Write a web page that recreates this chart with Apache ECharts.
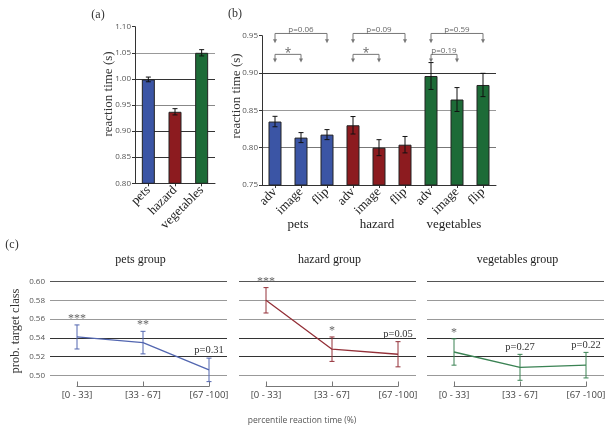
<!DOCTYPE html>
<html><head><meta charset="utf-8">
<script src="https://cdn.jsdelivr.net/npm/echarts@6/dist/echarts.min.js"></script>
<style>html,body{margin:0;padding:0;background:#fff}#c{width:605px;height:431px}</style>
</head><body><div id="c"></div>
<script>
// ---- data ----
const aCats = ['pets', 'hazard', 'vegetables'];
const aVals = [0.999, 0.937, 1.050];
const aErrs = [0.0045, 0.006, 0.006];

const bCats = ['adv', 'image', 'flip', 'adv', 'image', 'flip', 'adv', 'image', 'flip'];
const bGroups = ['pets', 'hazard', 'vegetables'];
const bVals = [0.835, 0.8135, 0.8175, 0.830, 0.800, 0.804, 0.896, 0.8645, 0.884];
const bErrs = [0.007, 0.0067, 0.0067, 0.0117, 0.0107, 0.011, 0.018, 0.016, 0.0156];
const bBrackets = [[0, 2, 'p=0.06'], [0, 1, '*'], [3, 5, 'p=0.09'], [3, 4, '*'], [6, 8, 'p=0.59'], [6, 7, 'p=0.19']];

const cCats = ['[0 - 33]', '[33 - 67]', '[67 -100]'];
const cTitles = ['pets group', 'hazard group', 'vegetables group'];
const cPets = [0.541, 0.535, 0.506];
const cPetsErr = [0.0128, 0.012, 0.0125];
const cPetsLab = ['***', '**', 'p=0.31'];
const cHazard = [0.580, 0.528, 0.5226];
const cHazardErr = [0.0135, 0.013, 0.0134];
const cHazardLab = ['***', '*', 'p=0.05'];
const cVeg = [0.525, 0.5087, 0.511];
const cVegErr = [0.014, 0.0138, 0.0136];
const cVegLab = ['*', 'p=0.27', 'p=0.22'];

// ---- styles ----
const BLUE = '#3b55a5', RED = '#8c1b1f', GREEN = '#1d6b37';
const LBLUE = '#5266b0', LRED = '#943038', LGREEN = '#3a8253';
const SERIF = 'Liberation Serif';
const SANS = 'Open Sans';
const tickLab = { fontFamily: SANS, fontSize: 8, color: '#555', formatter: v => v.toFixed(2) };

function errItem(color, cap, labels) {
  return function (params, api) {
    const i = api.value(0), v = api.value(1), e = api.value(2);
    const t = api.coord([i, v + e]), b = api.coord([i, v - e]);
    const x = t[0];
    const st = { stroke: color, lineWidth: 1 };
    const ch = [
      { type: 'line', shape: { x1: x, y1: t[1], x2: x, y2: b[1] }, style: st },
      { type: 'line', shape: { x1: x - cap, y1: t[1], x2: x + cap, y2: t[1] }, style: st },
      { type: 'line', shape: { x1: x - cap, y1: b[1], x2: x + cap, y2: b[1] }, style: st }
    ];
    if (labels) {
      const txt = labels[params.dataIndex];
      const star = txt.indexOf('p=') < 0;
      ch.push({ type: 'text', x: x, y: t[1] - (star ? 0 : 2), style: {
        text: txt, textAlign: 'center', textVerticalAlign: 'bottom',
        fill: star ? '#666' : '#333', font: (star ? '12px ' : '10.5px ') + '"' + SERIF + '"' } });
    }
    return { type: 'group', children: ch };
  };
}

function bracketItem(params, api) {
  const a = api.value(0), b = api.value(1);
  const upper = (b - a) === 2;
  const lvl = upper ? 0.953 : 0.925;
  const tip = upper ? 0.940 : 0.914;
  const p1 = api.coord([a, lvl]), p2 = api.coord([b, lvl]);
  const q1 = api.coord([a, tip]);
  const ty = q1[1];
  const st = { stroke: '#777', lineWidth: 1, fill: null };
  const arrow = (x) => ({ type: 'polygon', shape: { points: [[x - 2, ty - 4], [x + 2, ty - 4], [x, ty]] }, style: { fill: '#777' } });
  const txt = bBrackets[params.dataIndex][2];
  const star = txt === '*';
  return { type: 'group', children: [
    { type: 'polyline', shape: { points: [[p1[0], ty - 3], [p1[0], p1[1]], [p2[0], p2[1]], [p2[0], ty - 3]] }, style: st },
    arrow(p1[0]), arrow(p2[0]),
    { type: 'text', x: (p1[0] + p2[0]) / 2, y: p1[1] + (star ? 5 : 0), style: {
      text: txt, textAlign: 'center', textVerticalAlign: 'bottom',
      fill: '#666', font: star ? '12px "' + SANS + '"' : '8px "' + SANS + '"' } }
  ] };
}

// ---- layout ----
const cTop = 281.5, cH = 94;
const cLeft = [50, 239, 427], cW = 177;
const cInnerOff = 27, cInnerW = 132;

const grids = [
  { left: 135, top: 26.7, width: 80, height: 156.6 },
  { left: 262, top: 35.7, width: 234, height: 149.3 }
];
cLeft.forEach(l => grids.push({ left: l, top: cTop, width: cW, height: cH }));
cLeft.forEach(l => grids.push({ left: l + cInnerOff, top: cTop, width: cInnerW, height: cH }));
grids.forEach(g => { g.containLabel = false; g.outerBoundsMode = 'none'; });

const darkAxis = { show: true, lineStyle: { color: '#333', width: 1 } };

const xAxes = [
  { gridIndex: 0, type: 'category', data: aCats, axisLine: darkAxis,
    axisTick: { show: true, alignWithLabel: true, length: 3, lineStyle: { color: '#333' } },
    axisLabel: { rotate: 45, fontFamily: SERIF, fontSize: 13, color: '#222', margin: 5 } },
  { gridIndex: 1, type: 'category', data: bCats, axisLine: darkAxis,
    axisTick: { show: true, alignWithLabel: true, length: 3, lineStyle: { color: '#333' } },
    axisLabel: { rotate: 45, fontFamily: SERIF, fontSize: 13, color: '#222', margin: 5 } }
];
for (let k = 0; k < 3; k++) xAxes.push({ gridIndex: 2 + k, type: 'value', min: 0, max: 1, show: false });
for (let k = 0; k < 3; k++) xAxes.push({ gridIndex: 5 + k, type: 'category', data: cCats, boundaryGap: false,
  offset: 11, axisLine: { show: true, lineStyle: { color: '#777', width: 1 } },
  axisTick: { show: true, inside: true, length: 5, lineStyle: { color: '#777' } },
  axisLabel: { fontFamily: SANS, fontSize: 9.5, color: '#444', margin: 4 } });

const yAxes = [
  { gridIndex: 0, type: 'value', min: 0.80, max: 1.10, interval: 0.05, axisLine: darkAxis,
    axisTick: { show: true, length: 3, lineStyle: { color: '#333' } }, axisLabel: Object.assign({ margin: 4 }, tickLab),
    splitLine: { show: true, lineStyle: { width: 1.2, color: ['#333', '#333', '#333', '#888', '#333', '#999', 'rgba(0,0,0,0)'] } } },
  { gridIndex: 1, type: 'value', min: 0.75, max: 0.95, interval: 0.05, axisLine: darkAxis,
    axisTick: { show: true, length: 3, lineStyle: { color: '#333' } }, axisLabel: Object.assign({ margin: 4 }, tickLab),
    splitLine: { show: true, lineStyle: { width: 1.2, color: ['#333', '#777', '#999', '#333', 'rgba(0,0,0,0)'] } } }
];
for (let k = 0; k < 3; k++) yAxes.push({ gridIndex: 2 + k, type: 'value', min: 0.50, max: 0.60, interval: 0.02,
  axisLine: { show: false }, axisTick: { show: false },
  axisLabel: Object.assign({ show: k === 0, margin: 5 }, tickLab),
  splitLine: { show: true, lineStyle: { width: 1.2, color: ['#999', '#333', '#333', '#999', '#999', '#555'] } } });
for (let k = 0; k < 3; k++) yAxes.push({ gridIndex: 5 + k, type: 'value', min: 0.50, max: 0.60, show: false });

const toErr = (vals, errs) => vals.map((v, i) => [i, v, errs[i]]);
const aColors = [BLUE, RED, GREEN];
const bColors = bVals.map((v, i) => aColors[Math.floor(i / 3)]);

const series = [
  { type: 'bar', xAxisIndex: 0, yAxisIndex: 0, barWidth: 13,
    data: aVals.map((v, i) => ({ value: v, itemStyle: { color: aColors[i], borderColor: '#222', borderWidth: 1 } })) },
  { type: 'custom', xAxisIndex: 0, yAxisIndex: 0, renderItem: errItem('#111', 2.5), data: toErr(aVals, aErrs), z: 5 },
  { type: 'bar', xAxisIndex: 1, yAxisIndex: 1, barWidth: 13,
    data: bVals.map((v, i) => ({ value: v, itemStyle: { color: bColors[i], borderColor: '#222', borderWidth: 1 } })) },
  { type: 'custom', xAxisIndex: 1, yAxisIndex: 1, renderItem: errItem('#111', 2.5), data: toErr(bVals, bErrs), z: 5 },
  { type: 'custom', xAxisIndex: 1, yAxisIndex: 1, renderItem: bracketItem, clip: false,
    data: bBrackets.map(b => [b[0], b[1]]), z: 6 }
];
const cSets = [[cPets, cPetsErr, cPetsLab, LBLUE], [cHazard, cHazardErr, cHazardLab, LRED], [cVeg, cVegErr, cVegLab, LGREEN]];
cSets.forEach((s, k) => {
  series.push({ type: 'line', xAxisIndex: 5 + k, yAxisIndex: 5 + k, data: s[0], symbol: 'none',
    lineStyle: { color: s[3], width: 1.3 }, z: 3 });
  series.push({ type: 'custom', xAxisIndex: 5 + k, yAxisIndex: 5 + k, renderItem: errItem(s[3], 2.5, s[2]),
    data: toErr(s[0], s[1]), clip: false, z: 4 });
});

const txt = (x, y, text, font, fill, extra) => Object.assign({ type: 'text', x: x, y: y,
  style: { text: text, font: font, fill: fill, textAlign: 'center', textVerticalAlign: 'middle' } }, extra || {});
const serifF = s => s + 'px "' + SERIF + '"';
const graphic = [
  txt(98, 15, '(a)', serifF(12), '#333'),
  txt(235, 14, '(b)', serifF(12), '#333'),
  txt(12, 245, '(c)', serifF(12), '#333'),
  txt(109, 94, 'reaction time (s)', serifF(13), '#333', { rotation: Math.PI / 2 }),
  txt(237, 96, 'reaction time (s)', serifF(13), '#333', { rotation: Math.PI / 2 }),
  txt(16, 331, 'prob. target class', serifF(12.5), '#333', { rotation: Math.PI / 2 }),
  txt(298, 225, bGroups[0], serifF(13), '#222'),
  txt(377, 225, bGroups[1], serifF(13), '#222'),
  txt(454, 225, bGroups[2], serifF(13), '#222'),
  txt(302, 421, 'percentile reaction time (%)', '8.5px "' + SANS + '"', '#555')
];
cTitles.forEach((t, k) => graphic.push(txt(cLeft[k] + cW / 2 + 2, 260, t, serifF(12), '#222')));

const chart = echarts.init(document.getElementById('c'), null, { renderer: 'canvas' });
chart.setOption({ animation: false, backgroundColor: '#fff', grid: grids, xAxis: xAxes, yAxis: yAxes, series: series, graphic: graphic });
</script></body></html>
